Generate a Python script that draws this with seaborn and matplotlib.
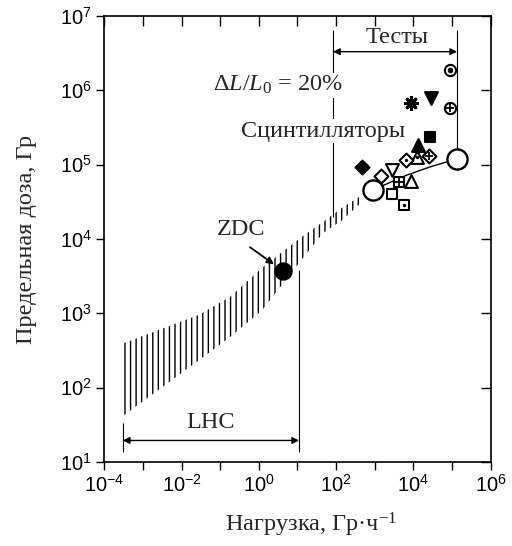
import numpy as np
import matplotlib
matplotlib.use("Agg")
import matplotlib.pyplot as plt
from matplotlib.ticker import FixedLocator, NullLocator, FuncFormatter, NullFormatter
import seaborn as sns

# Hatched band of tolerable dose vs. dose rate (log10 values)
band_logx = [-3.49, -1.55, -0.75, 0.08, 1.06, 1.66, 2.15, 2.67]
band_logy_low = [1.63, 2.37, 2.68, 3.04, 3.69, 4.08, 4.25, 4.50]
band_logy_high = [2.60, 2.98, 3.22, 3.61, 4.01, 4.23, 4.42, 4.59]

# Scintillator test results (log10 dose rate, log10 dose, symbol)
scint_logx = [4.95, 3.94, 4.46, 4.95, 4.43, 4.12, 4.09, 4.40, 3.81, 2.67,
              3.16, 3.45, 3.63, 3.94, 3.45, 3.76]
scint_logy = [6.27, 5.83, 5.90, 5.76, 5.37, 5.26, 5.10, 5.12, 5.06, 4.97,
              4.85, 4.93, 4.77, 4.78, 4.60, 4.46]
scint_kind = ["bullseye", "asterisk", "vfill", "oplus", "sfill", "tfill",
              "tdot", "dplus", "ddot", "dfill", "dopen", "vopen", "splus",
              "topen", "sopen", "sdot"]

# 20 % light-loss curve through the two reference points
curve_logx = [2.95, 3.83, 4.43, 5.13]
curve_logy = [4.66, 4.86, 4.97, 5.08]
ref_logx = [2.95, 5.13]
ref_logy = [4.66, 5.08]

# ZDC operating point
zdc_logx, zdc_logy = 0.62, 3.57

# Ranges marked with arrows
tests_logx = (1.92, 5.13)
lhc_logx = (-3.52, 1.04)

x_decades = list(range(-4, 7))
y_decades = list(range(1, 8))

sns.set_theme(style="ticks")
plt.rcParams["font.family"] = ["Liberation Serif", "DejaVu Serif"]
plt.rcParams["mathtext.fontset"] = "custom"
plt.rcParams["mathtext.rm"] = "Liberation Serif"
plt.rcParams["mathtext.it"] = "Liberation Serif:italic"
plt.rcParams["mathtext.sf"] = "Liberation Sans"
plt.rcParams["hatch.linewidth"] = 1.0
plt.rcParams["hatch.color"] = "black"

FS = 17.5

fig = plt.figure(figsize=(5.12, 5.46), dpi=100)
ax = fig.add_axes([0.2037, 0.1538, 0.7547, 0.8169])
ax.set_xscale("log")
ax.set_yscale("log")
ax.set_xlim(10.0 ** x_decades[0], 10.0 ** x_decades[-1])
ax.set_ylim(10.0 ** y_decades[0], 10.0 ** y_decades[-1])

p = lambda v: 10.0 ** np.asarray(v, dtype=float)

# hatched band
ax.fill_between(p(band_logx), p(band_logy_low), p(band_logy_high),
                facecolor="none", edgecolor="black", linewidth=0,
                hatch="|||", zorder=2)

# curve between reference points
sns.lineplot(x=p(curve_logx), y=p(curve_logy), color="black", lw=1.0,
             ax=ax, zorder=3, sort=False)
sns.scatterplot(x=p(ref_logx), y=p(ref_logy), marker="o", s=210,
                facecolor="white", edgecolor="black", linewidth=1.7,
                ax=ax, zorder=6)

# symbol definitions: base marker, filled?, overlay marker
styles = {
    "bullseye": ("o", False, "o_small"),
    "asterisk": ("ast", True, None),
    "vfill": ("v", True, None),
    "oplus": ("o", False, "+"),
    "sfill": ("s", True, None),
    "tfill": ("^", True, None),
    "tdot": ("^", False, "."),
    "dplus": ("D", False, "+"),
    "ddot": ("D", False, "."),
    "dfill": ("D", True, None),
    "dopen": ("D", False, None),
    "vopen": ("v", False, None),
    "splus": ("s", False, "+"),
    "topen": ("^", False, None),
    "sopen": ("s", False, None),
    "sdot": ("s", False, "."),
}
sizes = {"o": 65, "s": 60, "D": 50, "^": 85, "v": 85}

for lx, ly, kind in zip(scint_logx, scint_logy, scint_kind):
    base, filled, over = styles[kind]
    xx, yy = [10.0 ** lx], [10.0 ** ly]
    if base == "ast":
        sns.scatterplot(x=xx, y=yy, marker=(8, 2, 0), s=75, color="black",
                        linewidth=2.2, ax=ax, zorder=6)
        continue
    sns.scatterplot(x=xx, y=yy, marker=base, s=sizes[base],
                    facecolor="black" if filled else "white",
                    edgecolor="black", linewidth=1.5, ax=ax, zorder=6)
    if over == "+":
        sns.scatterplot(x=xx, y=yy, marker="+", s=sizes[base] * 0.55,
                        color="black", linewidth=1.3, ax=ax, zorder=7)
    elif over == ".":
        sns.scatterplot(x=xx, y=yy, marker="o", s=6, color="black",
                        edgecolor="black", linewidth=0, ax=ax, zorder=7)
    elif over == "o_small":
        sns.scatterplot(x=xx, y=yy, marker="o", s=16, color="black",
                        edgecolor="black", linewidth=0, ax=ax, zorder=7)

# ZDC point and label
sns.scatterplot(x=[10.0 ** zdc_logx], y=[10.0 ** zdc_logy], marker="o",
                s=150, color="black", edgecolor="black", ax=ax, zorder=6)
ax.annotate("", xy=(10 ** 0.39, 10 ** 3.66), xytext=(10 ** -0.23, 10 ** 3.89),
            arrowprops=dict(arrowstyle="-|>", color="black", lw=1.3,
                            mutation_scale=10, shrinkA=0, shrinkB=0),
            zorder=5)
ax.text(10 ** -0.46, 10 ** 4.13, "ZDC", ha="center", va="center",
        fontsize=FS, zorder=8)

# "Tests" range
ax.vlines(p(tests_logx[0]), 10 ** 4.29, 10 ** 6.81, color="black", lw=0.8,
          zorder=3)
ax.vlines(p(tests_logx[1]), 10 ** 4.93, 10 ** 6.81, color="black", lw=0.8,
          zorder=3)
ax.annotate("", xy=(p(tests_logx[1]), 10 ** 6.52),
            xytext=(p(tests_logx[0]), 10 ** 6.52),
            arrowprops=dict(arrowstyle="<|-|>", color="black", lw=1.0,
                            mutation_scale=10, shrinkA=0, shrinkB=0))
ax.text(10 ** 3.58, 10 ** 6.71, "Тесты", ha="center", va="center",
        fontsize=FS)

# "LHC" range
ax.vlines(p(lhc_logx[0]), 10 ** 1.13, 10 ** 1.52, color="black", lw=0.8)
ax.vlines(p(lhc_logx[1]), 10 ** 1.13, 10 ** 3.58, color="black", lw=0.8)
ax.annotate("", xy=(p(lhc_logx[1]), 10 ** 1.29),
            xytext=(p(lhc_logx[0]), 10 ** 1.29),
            arrowprops=dict(arrowstyle="<|-|>", color="black", lw=1.0,
                            mutation_scale=10, shrinkA=0, shrinkB=0))
ax.text(10 ** -1.26, 10 ** 1.53, "LHC", ha="center", va="center",
        fontsize=FS)

# inline labels with white background cutting the vertical line
box = dict(facecolor="white", edgecolor="none", pad=1.0)
ax.text(10 ** 0.50, 10 ** 6.07, r"$\Delta L/L_0$ = 20%", ha="center",
        va="center", fontsize=FS, bbox=box, zorder=4)
ax.text(10 ** 1.66, 10 ** 5.45, "Сцинтилляторы", ha="center", va="center",
        fontsize=FS, bbox=box, zorder=4)

# ticks and labels
def dec_label(v, pos, step=1):
    e = int(round(np.log10(v)))
    if e % step:
        return ""
    return r"$\mathsf{10^{%d}}$" % e

xticks = [10.0 ** e for e in x_decades]
yticks = [10.0 ** e for e in y_decades]
ax.xaxis.set_major_locator(FixedLocator(xticks))
ax.yaxis.set_major_locator(FixedLocator(yticks))
ax.xaxis.set_minor_locator(NullLocator())
ax.yaxis.set_minor_locator(NullLocator())
ax.xaxis.set_major_formatter(FuncFormatter(lambda v, pos: dec_label(v, pos, 2)))
ax.yaxis.set_major_formatter(FuncFormatter(lambda v, pos: dec_label(v, pos, 1)))
ax.tick_params(axis="both", which="major", direction="out", length=6,
               width=1.0, colors="black", labelsize=14.5, pad=3)

for sp in ax.spines.values():
    sp.set_linewidth(1.2)
    sp.set_color("black")

# inward ticks on the top and right sides
sec_x = ax.secondary_xaxis("top")
sec_x.xaxis.set_major_locator(FixedLocator(xticks))
sec_x.xaxis.set_minor_locator(NullLocator())
sec_x.xaxis.set_major_formatter(NullFormatter())
sec_x.tick_params(axis="x", direction="in", length=7, width=1.0,
                  colors="black")
sec_y = ax.secondary_yaxis("right")
sec_y.yaxis.set_major_locator(FixedLocator(yticks))
sec_y.yaxis.set_minor_locator(NullLocator())
sec_y.yaxis.set_major_formatter(NullFormatter())
sec_y.tick_params(axis="y", direction="in", length=7, width=1.0,
                  colors="black")
for a in (sec_x, sec_y):
    for sp in a.spines.values():
        sp.set_visible(False)

ax.set_xlabel("Нагрузка, Гр·ч$^{-1}$", fontsize=FS, labelpad=10, x=0.535)
ax.set_ylabel("Предельная доза, Гр", fontsize=FS, labelpad=16)

fig.savefig("out.png", dpi=100)
